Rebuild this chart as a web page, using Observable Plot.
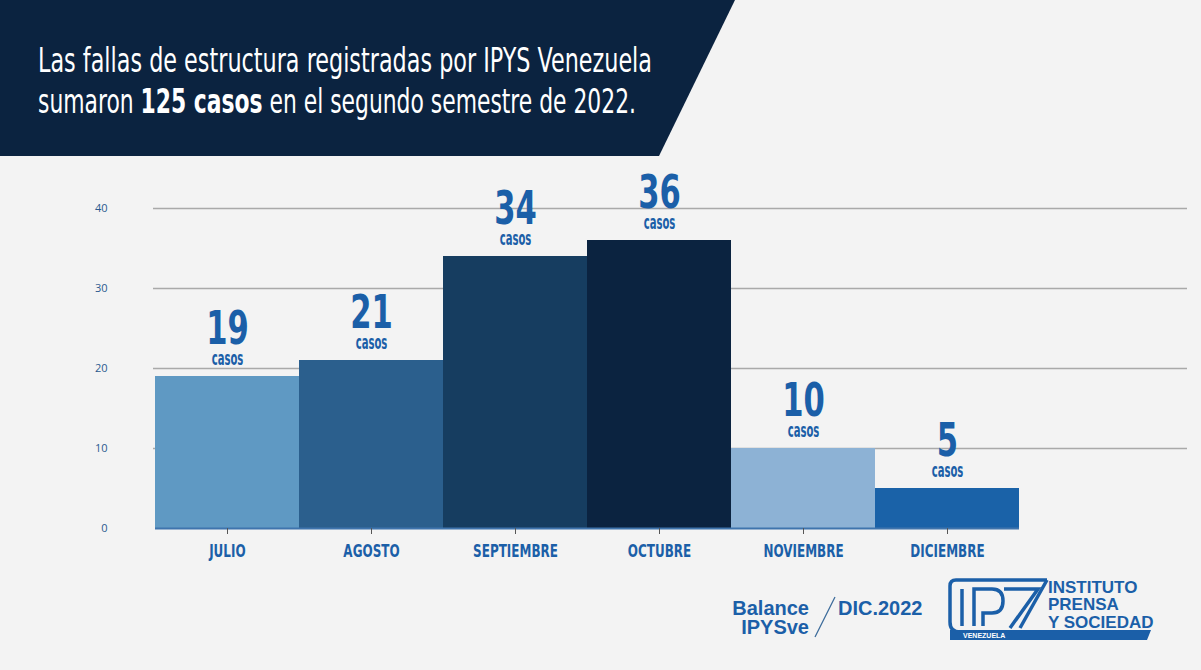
<!DOCTYPE html>
<html><head><meta charset="utf-8">
<script src="https://cdn.jsdelivr.net/npm/d3@7"></script>
<script src="https://cdn.jsdelivr.net/npm/@observablehq/plot@0.6"></script>
<style>
html,body{margin:0;padding:0;background:#f3f3f3;}
#wrap{position:relative;width:1201px;height:670px;overflow:hidden;background:#f3f3f3;}
#chart{position:absolute;left:0;top:0;}
#overlay{position:absolute;left:0;top:0;pointer-events:none;}
</style></head><body>
<div id="wrap">
<div id="chart"></div>
<svg id="overlay" width="1201" height="670" xmlns="http://www.w3.org/2000/svg">
  <polygon points="0,0 735,0 659,156 0,156" fill="#0b2340"/>
  <g font-family="'Liberation Sans Narrow','DejaVu Sans Condensed',sans-serif" fill="#ffffff" font-size="34">
    <text x="38" y="72" textLength="614" lengthAdjust="spacingAndGlyphs">Las fallas de estructura registradas por IPYS Venezuela</text>
    <text x="38" y="113" textLength="598" lengthAdjust="spacingAndGlyphs">sumaron <tspan font-weight="bold">125 casos</tspan> en el segundo semestre de 2022.</text>
  </g>
  <g font-family="'Liberation Sans','Arial',sans-serif" font-weight="bold" fill="#1b5fa8" font-size="20">
    <text x="809" y="615" text-anchor="end">Balance</text>
    <text x="809" y="634" text-anchor="end">IPYSve</text>
    <text x="838" y="615">DIC.2022</text>
  </g>
  <line x1="835" y1="597" x2="815" y2="637" stroke="#3a6a9a" stroke-width="1.2"/>
  <g fill="none" stroke="#1b5fa8" stroke-width="3.5" stroke-linejoin="miter">
    <path d="M1047,580 H956 Q950,580 950,586 V622 Q950,632 960,632"/>
    <path d="M962,589 V626"/>
    <path d="M974,626 V589 H992 Q1003,589 1003,601 Q1003,613 992,613 H983 V626"/>
    <path d="M1004,589 H1038 L1010,628"/>
    <path d="M1047,580 L1020,628"/>
  </g>
  <polygon points="950,630 1151,630 1147,640 950,640" fill="#1b5fa8"/>
  <text x="963" y="638" font-family="'Liberation Sans',sans-serif" font-weight="bold" font-size="7" fill="#ffffff">VENEZUELA</text>
  <g font-family="'Liberation Sans','Arial',sans-serif" font-weight="bold" fill="#1b5fa8" font-size="17">
    <text x="1048" y="593">INSTITUTO</text>
    <text x="1048" y="610">PRENSA</text>
    <text x="1048" y="628">Y SOCIEDAD</text>
  </g>
</svg>
</div>
<script>
const months = ["JULIO","AGOSTO","SEPTIEMBRE","OCTUBRE","NOVIEMBRE","DICIEMBRE"];
const casos = [19, 21, 34, 36, 10, 5];
const barColors = ["#5f99c3","#2b5f8d","#163d60","#0b2340","#8db2d5","#1a62a8"];
const yTicks = [0, 10, 20, 30, 40];
const gridTicks = [10, 20, 30, 40];

const data = months.map((m, i) => ({month: m, value: casos[i]}));
const narrow = "'Liberation Sans Narrow','DejaVu Sans Condensed',sans-serif";
const labelBlue = "#1b5fa8";

const chart = Plot.plot({
  width: 1201,
  height: 670,
  marginTop: 208,
  marginBottom: 142,
  marginLeft: 153,
  marginRight: 14,
  style: {background: "transparent", fontFamily: narrow},
  x: {type: "band", domain: months, range: [153, 1021], padding: 0, label: null},
  y: {domain: [0, 40], label: null},
  color: {domain: months, range: barColors},
  marks: [
    Plot.ruleY(gridTicks, {stroke: "#a9a9a9", strokeWidth: 1.6}),
    Plot.barY(data, {x: "month", y: "value", fill: "month"}),
    Plot.tickY(data, {x: "month", y: 0, stroke: "#3f74ad", strokeWidth: 2}),
    Plot.axisY({ticks: yTicks, tickSize: 0, tickPadding: 46, fontSize: 11, fill: "#2a5a8f", fontFamily: "'Open Sans',sans-serif", label: null}),
    Plot.axisX({tickSize: 6, tickPadding: 10, fontSize: 18, fontWeight: "bold", fill: labelBlue, stroke: "#555", label: null}),
    Plot.text(data, {x: "month", y: "value", text: d => String(d.value), dy: -33, lineAnchor: "bottom", fontSize: 46, fontWeight: "bold", fill: labelBlue}),
    Plot.text(data, {x: "month", y: "value", text: () => "casos", dy: -12, lineAnchor: "bottom", fontSize: 20, fontWeight: "bold", fill: labelBlue})
  ]
});
document.getElementById("chart").appendChild(chart);

// Horizontally condense texts around their own centre, to mimic the extra-condensed typeface
function condenseEl(t, f) {
  const b = t.getBBox();
  if (!b.width) return;
  const cx = b.x + b.width / 2;
  const prev = t.getAttribute("transform") || "";
  t.setAttribute("transform", `${prev} translate(${cx},0) scale(${f},1) translate(${-cx},0)`.trim());
}
const textGroups = chart.querySelectorAll('g[aria-label="text"]');
textGroups.forEach((g, i) => {
  g.querySelectorAll("text").forEach(t => condenseEl(t, i === 0 ? 0.74 : 0.56));
});
chart.querySelectorAll('g[aria-label="x-axis tick label"] text').forEach(t => condenseEl(t, 0.74));
</script>
</body></html>
